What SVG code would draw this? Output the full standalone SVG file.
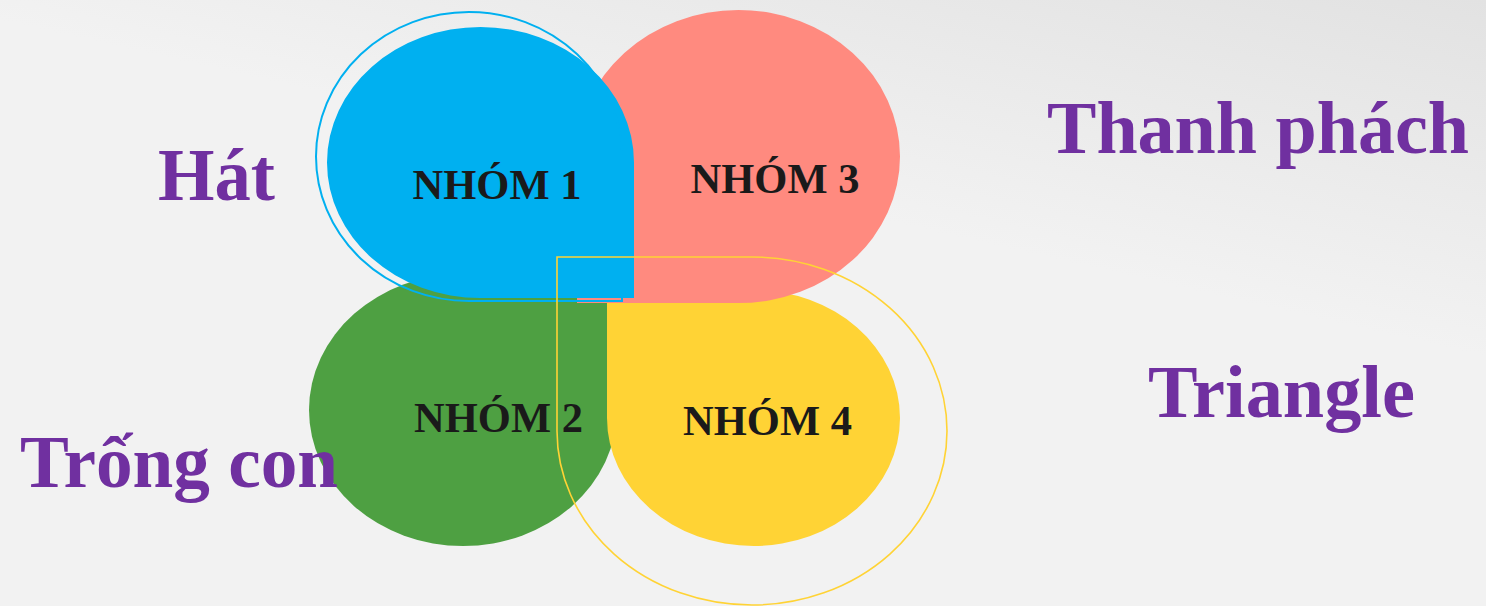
<svg xmlns="http://www.w3.org/2000/svg" width="1486" height="606" viewBox="0 0 1486 606">
  <defs>
    <linearGradient id="bg" x1="1" y1="0" x2="0.75" y2="0.45">
      <stop offset="0" stop-color="#E2E2E2"/>
      <stop offset="1" stop-color="#F2F2F2"/>
    </linearGradient>
    <style>
      .node-label { font-family: "Liberation Serif", "Times New Roman", serif; font-weight: bold; font-size: 42.5px; fill: #1A1A1A; text-anchor: middle; }
      .side-label { font-family: "Liberation Serif", "Times New Roman", serif; font-weight: bold; font-size: 73px; fill: #7030A0; }
      .ring { fill: none; }
    </style>
  </defs>
  <rect x="0" y="0" width="1486" height="606" fill="url(#bg)"/>

  <g id="node-2">
    <path d="M617,274 V410 A154,136 0 0 1 463,546 A154,136 0 0 1 309,410 A154,136 0 0 1 463,274 Z" fill="#4EA042"/>
  </g>
  <g id="node-4">
    <path d="M607,290 H753.5 A146.5,128 0 0 1 900,418 A146.5,128 0 0 1 753.5,546 A146.5,128 0 0 1 607,418 Z" fill="#FFD335"/>
  </g>
  <g id="node-3">
    <path d="M577,303 V156.5 A161.5,146.5 0 0 1 738.5,10 A161.5,146.5 0 0 1 900,156.5 A161.5,146.5 0 0 1 738.5,303 Z" fill="#FF8A7F"/>
  </g>
  <g id="node-1">
    <path d="M634,298 H480.5 A153.5,135.5 0 0 1 327,162.5 A153.5,135.5 0 0 1 480.5,27 A153.5,135.5 0 0 1 634,162.5 Z" fill="#00B0F0"/>
  </g>

  <g id="connectors">
    <path class="ring" d="M622,301 H469 A153,144.5 0 0 1 316,156.5 A153,144.5 0 0 1 469,12 A153,144.5 0 0 1 622,156.5 Z" stroke="#00B0F0" stroke-width="2"/>
    <path class="ring" d="M557,257 H752 A195,174 0 0 1 947,431 A195,174 0 0 1 752,605 A195,174 0 0 1 557,431 Z" stroke="#FFD335" stroke-width="1.6"/>
  </g>

  <g id="node-labels">
    <text class="node-label" x="497" y="199">NHÓM 1</text>
    <text class="node-label" x="498.5" y="432">NHÓM 2</text>
    <text class="node-label" x="775" y="193">NHÓM 3</text>
    <text class="node-label" x="767.5" y="435">NHÓM 4</text>
  </g>

  <g id="label-hat"><text class="side-label" x="158" y="200" textLength="117" lengthAdjust="spacingAndGlyphs">Hát</text></g>
  <g id="label-thanh-phach"><text class="side-label" x="1047" y="153" style="font-size:74px" textLength="422" lengthAdjust="spacingAndGlyphs">Thanh phách</text></g>
  <g id="label-trong-con"><text class="side-label" x="20" y="487" textLength="318" lengthAdjust="spacingAndGlyphs">Trống con</text></g>
  <g id="label-triangle"><text class="side-label" x="1148" y="417" style="font-size:74px" textLength="267" lengthAdjust="spacingAndGlyphs">Triangle</text></g>
</svg>
